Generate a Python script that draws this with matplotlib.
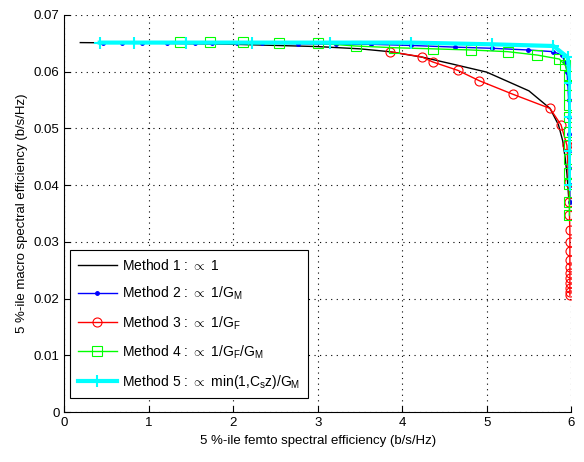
import matplotlib
matplotlib.use("Agg")
import matplotlib.pyplot as plt

plt.rcParams.update({"font.family": ["Liberation Sans", "DejaVu Sans"], "font.size": 9.5,
                     "mathtext.fontset": "custom", "mathtext.rm": "Liberation Sans",
                     "mathtext.it": "Liberation Sans"})

# Method 1 (black line)
x1 = [0.19, 1.0, 2.0, 2.5, 3.0, 3.5, 3.85, 4.25, 4.6, 5.0, 5.5, 5.75, 5.85, 5.9, 5.93, 5.95, 5.96, 5.97]
y1 = [0.0651, 0.0650, 0.0648, 0.0646, 0.0644, 0.0640, 0.0635, 0.0625, 0.0613, 0.0599, 0.0566, 0.0535,
      0.0506, 0.0478, 0.0447, 0.0420, 0.0400, 0.0380]
# Method 2 (blue dots)
x2 = [0.46, 0.68, 0.92, 1.22, 1.55, 1.75, 2.04, 2.34, 2.77, 3.22, 3.63, 4.1, 4.63, 5.06, 5.49, 5.79,
      5.89, 5.93, 5.95, 5.96, 5.97, 5.975, 5.98, 5.98, 5.98, 5.985, 5.985]
y2 = [0.0650, 0.0650, 0.0650, 0.0650, 0.0650, 0.0650, 0.0650, 0.0650, 0.0649, 0.0648, 0.0648, 0.0646,
      0.0643, 0.0641, 0.0638, 0.0635, 0.0629, 0.0616, 0.0600, 0.0580, 0.0550, 0.0520, 0.0490, 0.0460,
      0.0430, 0.0400, 0.0370]
# Method 3 (red circles)
x3 = [3.85, 4.23, 4.36, 4.66, 4.91, 5.31, 5.75, 5.88, 5.95, 5.97, 5.98, 5.98, 5.985, 5.985, 5.985,
      5.985, 5.985, 5.985, 5.985, 5.985, 5.985, 5.985, 5.985]
y3 = [0.0635, 0.0626, 0.0617, 0.0602, 0.0584, 0.0560, 0.0535, 0.0506, 0.0470, 0.0406, 0.0370, 0.0347,
      0.0320, 0.0300, 0.0283, 0.0268, 0.0256, 0.0245, 0.0236, 0.0227, 0.0219, 0.0212, 0.0206]
# Method 4 (green squares)
x4 = [1.37, 1.72, 2.11, 2.54, 3.0, 3.45, 3.9, 4.36, 4.81, 5.25, 5.60, 5.86, 5.93, 5.975, 5.98, 5.98,
      5.98, 5.98, 5.98, 5.98, 5.98, 5.98, 5.98, 5.98, 5.98]
y4 = [0.0652, 0.0652, 0.0652, 0.0650, 0.0650, 0.0645, 0.0642, 0.0640, 0.0638, 0.0635, 0.0629, 0.0622,
      0.0611, 0.0592, 0.0576, 0.0558, 0.0541, 0.0520, 0.0493, 0.0470, 0.0446, 0.0422, 0.0402, 0.0370,
      0.0347]
# Method 5 (cyan plus)
x5 = [0.42, 0.82, 1.44, 2.22, 3.15, 4.11, 5.06, 5.79, 5.96, 5.99, 5.99, 5.99, 5.99]
y5 = [0.0651, 0.0651, 0.0651, 0.0651, 0.0651, 0.0651, 0.0648, 0.0645, 0.0625, 0.0580, 0.0520, 0.0460,
      0.0400]

labels = [r"Method 1 : $\propto$ 1",
          r"Method 2 : $\propto$ 1/G$_{\mathregular{M}}$",
          r"Method 3 : $\propto$ 1/G$_{\mathregular{F}}$",
          r"Method 4 : $\propto$ 1/G$_{\mathregular{F}}$/G$_{\mathregular{M}}$",
          r"Method 5 : $\propto$ min(1,C$_{\mathregular{s}}$z)/G$_{\mathregular{M}}$"]

fig = plt.figure(figsize=(5.84, 4.62), dpi=100)
ax = fig.add_axes([0.11, 0.108, 0.868, 0.86])

ax.plot(x1, y1, color="black", lw=1.0, label=labels[0])
ax.plot(x2, y2, color="blue", lw=1.0, marker="o", ms=2.5, label=labels[1])
ax.plot(x3, y3, color="red", lw=1.0, marker="o", ms=6.5, mfc="none", mew=0.8, label=labels[2])
ax.plot(x4, y4, color="#00ff00", lw=1.0, marker="s", ms=6.5, mfc="none", mew=0.8, label=labels[3])
ax.plot(x5, y5, color="cyan", lw=3.0, marker="+", ms=8, mew=1.5, label=labels[4])

ax.set_xlim(0, 6)
ax.set_ylim(0, 0.07)
ax.set_xticks(range(7))
ax.set_yticks([0, 0.01, 0.02, 0.03, 0.04, 0.05, 0.06, 0.07])
ax.set_yticklabels(["0", "0.01", "0.02", "0.03", "0.04", "0.05", "0.06", "0.07"])
ax.tick_params(direction="in", length=4, width=0.8)
ax.grid(True, color="black", linestyle=(0, (1, 4)), lw=0.8)
ax.set_axisbelow(True)
for s in ("top", "right"):
    ax.spines[s].set_visible(False)

ax.set_xlabel("5 %-ile femto spectral efficiency (b/s/Hz)")
ax.set_ylabel("5 %-ile macro spectral efficiency (b/s/Hz)")

leg = ax.legend(loc="lower left", bbox_to_anchor=(0.012, 0.035), fontsize=10, handlelength=2.8,
                handletextpad=0.4, fancybox=False, framealpha=1, edgecolor="black",
                borderaxespad=0, labelspacing=0.85, borderpad=0.55)
leg.get_frame().set_linewidth(0.8)

fig.savefig("out.png", dpi=100)
